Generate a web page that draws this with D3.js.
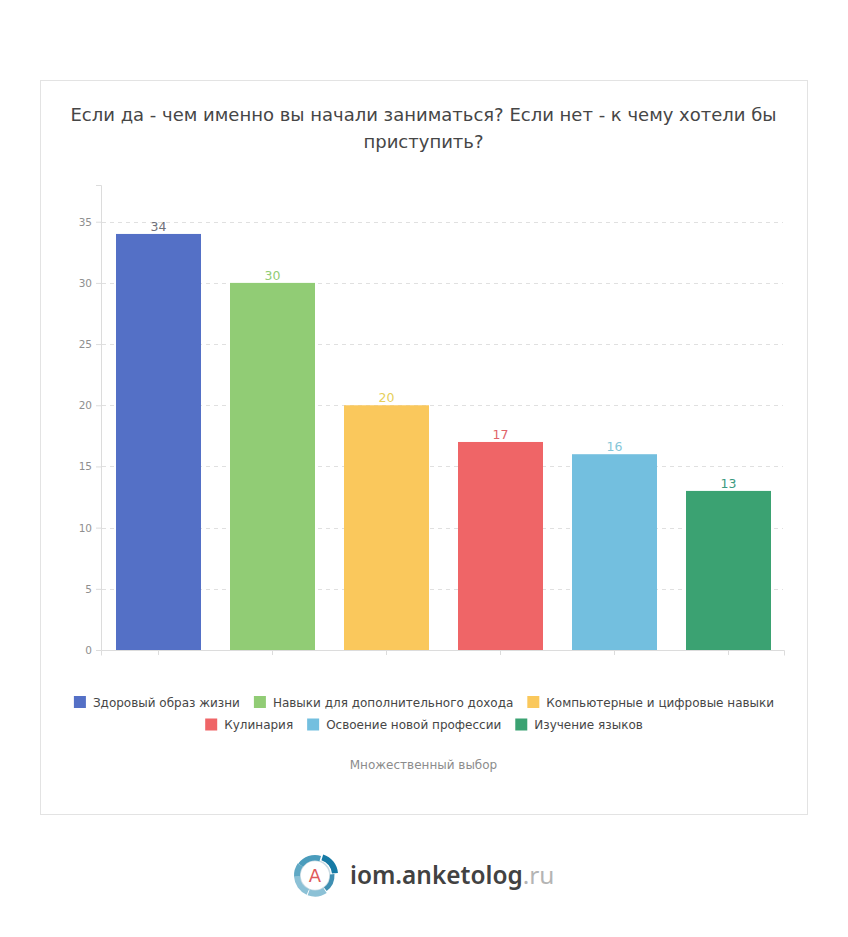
<!DOCTYPE html>
<html>
<head>
<meta charset="utf-8">
<script src="https://cdnjs.cloudflare.com/ajax/libs/d3/7.8.5/d3.min.js"></script>
<style>
body { margin: 0; background: #fff; }
svg { display: block; }
text { font-family: "DejaVu Sans", sans-serif; }
</style>
</head>
<body>
<svg id="chart" width="848" height="937"></svg>
<script>
const categories = ["Здоровый образ жизни", "Навыки для дополнительного дохода", "Компьютерные и цифровые навыки", "Кулинария", "Освоение новой профессии", "Изучение языков"];
const values = [34, 30, 20, 17, 16, 13];
const colors = ["#5470c6", "#91cc75", "#fac85c", "#ef6567", "#73bfdf", "#3ba272"];
const labelColors = ["#6e7079", "#91cc75", "#e6cf5a", "#e0636a", "#85c6d8", "#3b9a80"];
const yTicks = [0, 5, 10, 15, 20, 25, 30, 35];
const titleLines = ["Если да - чем именно вы начали заниматься? Если нет - к чему хотели бы", "приступить?"];
const legendRows = [[0, 1, 2], [3, 4, 5]];

const svg = d3.select("#chart");

// card
svg.append("rect").attr("x", 40.5).attr("y", 80.5).attr("width", 767).attr("height", 734)
    .attr("fill", "#fff").attr("stroke", "#e3e3e3");

svg.selectAll(".title").data(titleLines).enter().append("text")
    .attr("x", 423.5).attr("y", (d, i) => 121 + i * 27)
    .attr("text-anchor", "middle").attr("font-size", 18).attr("fill", "#464646")
    .text(d => d);

const x = d3.scaleBand().domain(categories).range([101.5, 785.5]).paddingInner(0.2544).paddingOuter(0.1272);
const y = d3.scaleLinear().domain([0, 38]).range([650, 185]);

// grid
svg.selectAll(".grid").data(yTicks.slice(1)).enter().append("line")
    .attr("x1", 102).attr("x2", 783).attr("y1", d => Math.round(y(d)) + 0.5).attr("y2", d => Math.round(y(d)) + 0.5)
    .attr("stroke", "#e0e0e0").attr("stroke-dasharray", "4,4");

const yAxis = d3.axisLeft(y).tickValues(yTicks).tickSize(5).tickPadding(4);
const gy = svg.append("g").attr("transform", "translate(101,0)").call(yAxis);
gy.selectAll("line").attr("stroke", "#dcdcdc");
gy.select(".domain").attr("stroke", "#dcdcdc");
gy.selectAll("text").attr("font-size", 10.5).attr("fill", "#8f8f8f").style("font-family", '"DejaVu Sans", sans-serif');

const xAxis = d3.axisBottom(x).tickFormat("").tickSize(5).tickSizeOuter(0);
const gx = svg.append("g").attr("transform", "translate(0,650)").call(xAxis);
gx.selectAll("line").attr("stroke", "#dcdcdc");
gx.select(".domain").remove();
// axis line stops a little short of the band range
gx.append("path").attr("d", "M101.5,5.5V0.5H784.5V5.5").attr("fill", "none").attr("stroke", "#dcdcdc");

// bars
svg.selectAll(".bar").data(categories).enter().append("rect")
    .attr("x", d => x(d)).attr("width", x.bandwidth())
    .attr("y", (d, i) => y(values[i])).attr("height", (d, i) => y(0) - y(values[i]))
    .attr("fill", (d, i) => colors[i]);

svg.selectAll(".val").data(categories).enter().append("text")
    .attr("x", d => x(d) + x.bandwidth() / 2).attr("y", (d, i) => y(values[i]) - 3)
    .attr("text-anchor", "middle").attr("font-size", 12.5)
    .attr("fill", (d, i) => labelColors[i])
    .text((d, i) => values[i]);

// legend, rows are centred
legendRows.forEach((row, r) => {
    const g = svg.append("g");
    let cx = 0;
    row.forEach(idx => {
        g.append("rect").attr("x", cx).attr("y", 696 + r * 22.5).attr("width", 12).attr("height", 12).attr("fill", colors[idx]);
        const t = g.append("text").attr("x", cx + 19).attr("y", 706.5 + r * 22.5)
            .attr("font-size", 12).attr("fill", "#464646").text(categories[idx]);
        cx += 19 + t.node().getComputedTextLength() + 14;
    });
    g.attr("transform", `translate(${424 - (cx - 14) / 2},0)`);
});

svg.append("text").attr("x", 423.5).attr("y", 769).attr("text-anchor", "middle")
    .attr("font-size", 12).attr("fill", "#8c8c8c").text("Множественный выбор");

// logo
const logo = svg.append("g").attr("transform", "translate(315,875.5)");
const ring = d3.arc();
logo.append("circle").attr("r", 15).attr("fill", "#fff").attr("stroke", "#c9dbe3").attr("stroke-width", 1.5);
logo.append("path").attr("d", ring({innerRadius: 15, outerRadius: 20.5, startAngle: -0.95, endAngle: 0.3})).attr("fill", "#4a9cbc");
logo.append("path").attr("d", ring({innerRadius: 15, outerRadius: 21, startAngle: 0.3, endAngle: 1.5})).attr("fill", "#167aa5").attr("transform", "translate(2,-1)");
logo.append("path").attr("d", ring({innerRadius: 15, outerRadius: 19.5, startAngle: 1.5, endAngle: 2.5})).attr("fill", "#3f8fb2");
logo.append("path").attr("d", ring({innerRadius: 15, outerRadius: 21, startAngle: 2.55, endAngle: 3.5})).attr("fill", "#8cc1d6");
logo.append("path").attr("d", ring({innerRadius: 15, outerRadius: 21, startAngle: 3.55, endAngle: 4.65})).attr("fill", "#8cc1d6");
logo.append("path").attr("d", ring({innerRadius: 15, outerRadius: 21, startAngle: 4.65, endAngle: 5.33})).attr("fill", "#5fa8c4");
logo.append("text").attr("x", 0).attr("y", 6.5).attr("text-anchor", "middle").attr("font-size", 18).attr("fill", "#df5a5a").text("A");

const brand = svg.append("text").attr("x", 350).attr("y", 884).attr("font-size", 24.4)
    .style("font-family", '"Noto Sans", sans-serif');
brand.append("tspan").attr("fill", "#424242").attr("font-weight", 600).text("iom.anketolog");
brand.append("tspan").attr("fill", "#b4b4b4").text(".ru");
</script>
</body>
</html>
